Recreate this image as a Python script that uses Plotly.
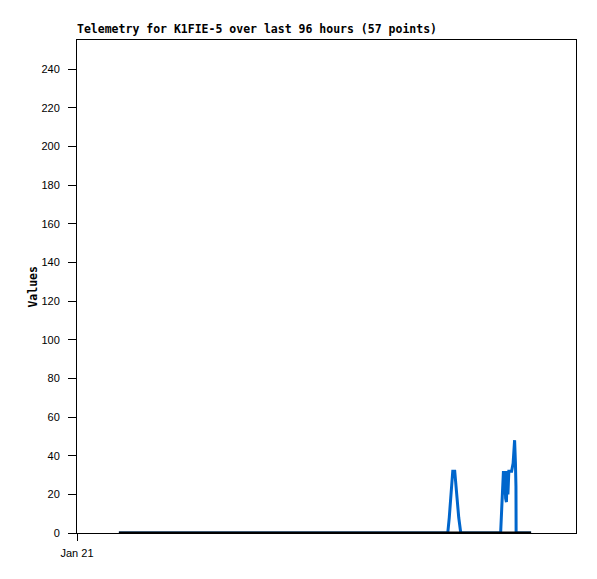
import pandas as pd
import plotly.graph_objects as go

# ---- data (hours since Jan 21 00:00, values) ----
base_time = "2024-01-21 00:00"
blue_hours = [8.06, 20.0, 32.0, 44.0, 56.0, 66.0, 71.0,
              71.33, 71.62, 71.85, 72.06, 72.29, 72.67, 72.92, 73.15, 73.44, 73.83,
              76.0, 79.0, 81.0,
              81.50, 81.70, 81.89, 82.04, 82.18, 82.31, 82.46, 82.62, 82.75, 82.90,
              83.08, 83.62, 83.90, 84.19, 84.35, 84.45, 84.48, 86.0, 87.36]
blue_values = [0, 0, 0, 0, 0, 0, 0,
               0, 8, 16, 24, 32, 32, 24, 16, 8, 0,
               0, 0, 0,
               0, 12, 22, 32, 20, 32, 18, 16, 32, 20,
               32, 32, 36, 48, 36, 24, 0, 0, 0]
black_hours = [8.06, 30.0, 50.0, 70.0, 87.36]
black_values = [0, 0, 0, 0, 0]

y_ticks = list(range(0, 241, 20))
x_tick_label = "Jan 21"
title_text = "Telemetry for K1FIE-5 over last 96 hours (57 points)"
y_label = "Values"

t0 = pd.Timestamp(base_time)
blue_x = [t0 + pd.Timedelta(hours=h) for h in blue_hours]
black_x = [t0 + pd.Timedelta(hours=h) for h in black_hours]

# page body has an 8px margin -> figure origin at (8, 8) on screen
W, H = 581, 563
OFF = 8
PL, PR, PT, PB = 77, 577, 40, 538   # plot area on screen

fig = go.Figure()
fig.add_trace(go.Scatter(x=blue_x, y=blue_values, mode="lines",
                         line=dict(color="#0066CC", width=3), showlegend=False))
fig.add_trace(go.Scatter(x=black_x, y=black_values, mode="lines",
                         line=dict(color="#000000", width=3), showlegend=False))

fig.update_layout(
    width=W, height=H,
    margin=dict(l=PL - OFF, r=W - (PR - OFF), t=PT - OFF, b=H - (PB - OFF)),
    paper_bgcolor="white", plot_bgcolor="white",
    title=dict(text=title_text, x=(PL - OFF) / W, xanchor="left", xref="container",
               y=1 - (29 - OFF) / H, yanchor="middle", yref="container",
               font=dict(family="DejaVu Sans Mono", size=11.5, color="black", weight="bold")),
    xaxis=dict(type="date", range=[t0, t0 + pd.Timedelta(hours=96)],
               tickvals=[t0], ticktext=[x_tick_label],
               showgrid=False, zeroline=False,
               showline=True, linecolor="black", linewidth=1, mirror=True,
               ticks="outside", ticklen=7, tickcolor="black", tickwidth=1,
               ticklabelstandoff=3,
               tickfont=dict(family="Liberation Sans", size=11, color="black")),
    yaxis=dict(range=[0, 255], tickvals=y_ticks,
               showgrid=False, zeroline=False,
               showline=True, linecolor="black", linewidth=1, mirror=True,
               ticks="outside", ticklen=8, tickcolor="black", tickwidth=1,
               ticklabelstandoff=6,
               tickfont=dict(family="Liberation Sans", size=11, color="black")),
    annotations=[dict(text=y_label, textangle=-90, xref="paper", yref="paper",
                      x=(32 - PL) / (PR - PL), y=0.5, xanchor="center", yanchor="middle",
                      showarrow=False,
                      font=dict(family="DejaVu Sans Mono", size=11.5, color="black", weight="bold"))],
)

fig.write_html("out.html")
